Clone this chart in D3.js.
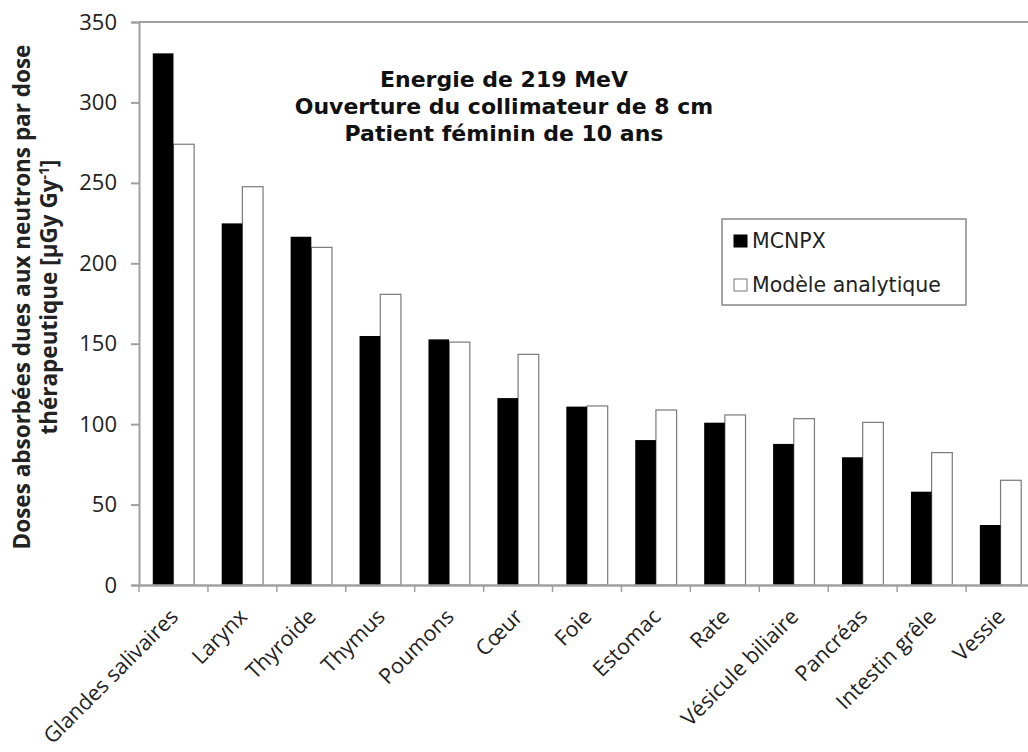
<!DOCTYPE html>
<html><head><meta charset="utf-8">
<script src="https://cdn.jsdelivr.net/npm/d3@7"></script>
<style>body{margin:0;background:#fff;}svg{display:block;}</style>
</head><body>
<svg id="c" width="1028" height="752"></svg>
<script>
const categories = ["Glandes salivaires","Larynx","Thyroide","Thymus","Poumons","Cœur","Foie","Estomac","Rate","Vésicule biliaire","Pancréas","Intestin grêle","Vessie"];
const mcnpx = [330.5,224.8,216.5,154.8,152.7,116.2,110.9,90.1,100.9,87.7,79.4,58,37.3];
const analytique = [274,247.6,209.9,180.7,151,143.4,111.3,108.8,105.7,103.4,101.1,82.3,65.1];
const seriesNames = ["MCNPX","Modèle analytique"];
const yTicks = [0,50,100,150,200,250,300,350];
const annotation = ["Energie de 219 MeV","Ouverture du collimateur de 8 cm","Patient féminin de 10 ans"];
const yTitle = ["Doses absorbées dues aux neutrons par dose","thérapeutique [µGy Gy"];

const svg = d3.select("#c");
const L = 139, R = 1035, T = 22, B = 585;
const x0 = d3.scaleBand().domain(categories).range([L, R]).paddingInner(0.4).paddingOuter(0.2);
const x1 = d3.scaleBand().domain(seriesNames).range([0, x0.bandwidth()]);
const y = d3.scaleLinear().domain([0, 350]).range([B, T]);
const tickFont = "'Open Sans', 'Noto Sans', sans-serif";
const grey = "#a0a0a0";

// bars
const data = categories.map((c,i)=>({c, v:[mcnpx[i], analytique[i]]}));
const g = svg.append("g");
data.forEach(d=>{
  g.append("rect").attr("x", x0(d.c)+x1(seriesNames[1])).attr("width", x1.bandwidth())
   .attr("y", y(d.v[1])).attr("height", y(0)-y(d.v[1]))
   .attr("fill","#fff").attr("stroke","#7a7a7a").attr("stroke-width",1.2);
  g.append("rect").attr("x", x0(d.c)+x1(seriesNames[0])).attr("width", x1.bandwidth())
   .attr("y", y(d.v[0])).attr("height", y(0)-y(d.v[0]))
   .attr("fill","#000");
});

// top line
svg.append("line").attr("x1", L).attr("x2", R).attr("y1", y(350)).attr("y2", y(350))
  .attr("stroke", grey).attr("stroke-width", 2);

// y axis
const ya = svg.append("g").attr("transform", `translate(${L},0)`)
  .call(d3.axisLeft(y).tickValues(yTicks).tickSize(8).tickPadding(14));
ya.select(".domain").attr("stroke", grey).attr("stroke-width", 2);
ya.selectAll(".tick line").attr("stroke", grey).attr("stroke-width", 2);
ya.selectAll("text").attr("font-family", tickFont).attr("font-size", 22).attr("fill","#222");

// x axis
const xa = svg.append("g").attr("transform", `translate(0,${B})`)
  .call(d3.axisBottom(x0).tickSize(0).tickPadding(0));
xa.select(".domain").attr("stroke", grey).attr("stroke-width", 2.5);
xa.selectAll("text").attr("font-family", tickFont).attr("font-size", 21.5).attr("fill","#222")
  .attr("text-anchor","end").attr("dy", null).attr("y", 0)
  .attr("transform", "translate(6,33) rotate(-45)");
// category separator ticks
const bounds = categories.map((c,i)=> L + i*x0.step()).concat([R]);
svg.append("g").selectAll("line").data(bounds).join("line")
  .attr("x1", d=>d).attr("x2", d=>d).attr("y1", B).attr("y2", B+7)
  .attr("stroke", grey).attr("stroke-width", 1.5);

// annotation
svg.append("g").selectAll("text").data(annotation).join("text")
  .attr("x", 504).attr("y", (d,i)=>87 + i*27)
  .attr("text-anchor","middle").attr("font-family","'DejaVu Sans', sans-serif")
  .attr("font-weight","bold").attr("font-size", 22).attr("fill","#111").text(d=>d);

// y title
svg.append("text").attr("transform","translate(30,297) rotate(-90)").attr("text-anchor","middle")
  .attr("font-family", tickFont).attr("font-weight","bold").attr("font-size",22.5).attr("fill","#222")
  .text(yTitle[0]);
const t2 = svg.append("text").attr("transform","translate(57,297) rotate(-90)").attr("text-anchor","middle")
  .attr("font-family", tickFont).attr("font-weight","bold").attr("font-size",22.5).attr("fill","#222");
t2.append("tspan").text(yTitle[1]);
t2.append("tspan").attr("dy",-8).attr("font-size",14).text("-1");
t2.append("tspan").attr("dy",8).text("]");

// legend
const lg = svg.append("g");
lg.append("rect").attr("x",722).attr("y",219).attr("width",244).attr("height",86)
  .attr("fill","#fff").attr("stroke","#888").attr("stroke-width",1.5);
const ly = [248, 292];
seriesNames.forEach((s,i)=>{
  lg.append("rect").attr("x",734).attr("y",ly[i]-13).attr("width",13).attr("height",12)
    .attr("fill", i===0?"#000":"#fff").attr("stroke", i===0?"#000":"#777");
  lg.append("text").attr("x",752).attr("y",ly[i]).attr("font-family","'DejaVu Sans', sans-serif")
    .attr("font-size",20.5).attr("fill","#222").text(s);
});
</script>
</body></html>
